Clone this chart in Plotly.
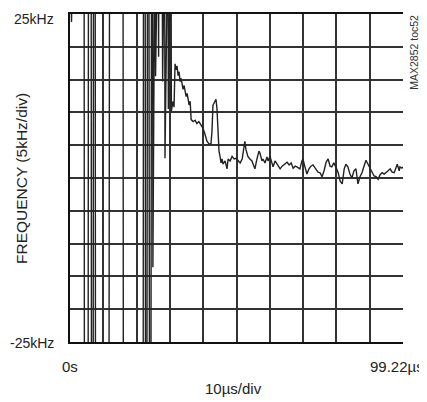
import plotly.graph_objects as go

# time (us) and frequency error (kHz)
# values beyond +/-25 kHz run off the screen
t_us = [0.0, 0.45, 0.75, 4.2, 4.3, 5.4, 5.5, 6.3, 6.4, 6.9, 7.0, 7.5, 7.6,
        11.6, 11.8, 15.8, 15.9, 21.8, 21.9, 22.4, 22.5, 22.9, 23.1, 23.5, 23.7,
        24.1, 24.3, 24.6, 24.7, 24.9, 25.3, 25.5, 25.6, 26.2, 26.4, 26.5,
        27.4, 27.6, 27.7, 28.2, 28.3, 28.5, 29.2, 29.3, 29.5, 30.1, 30.2,
        30.7, 31.0, 31.3, 31.6, 31.9, 32.2, 32.5, 32.8, 33.1, 33.7, 34.0,
        34.6, 34.9, 35.5, 35.8, 36.1, 36.7, 37.3, 37.8, 38.4, 39.0, 39.6,
        40.2, 40.8, 41.4, 42.0, 42.3, 42.6, 43.2, 43.5, 43.8, 44.1, 44.4,
        44.7, 45.0, 45.3, 45.6, 46.2, 46.5, 46.8, 47.1, 47.7, 48.3, 48.9,
        49.5, 50.1, 50.7, 51.3, 51.6, 52.1, 52.4, 53.0, 53.6, 54.2, 54.8,
        55.1, 55.7, 56.3, 56.6, 57.2, 57.5, 58.1, 58.7, 59.0, 59.6, 60.2,
        60.5, 61.1, 61.7, 62.3, 62.6, 63.2, 64.1, 64.7, 65.3, 65.9, 66.5,
        67.1, 67.6, 68.5, 69.1, 69.4, 70.0, 70.6, 71.2, 71.8, 72.4, 73.3,
        73.9, 74.5, 75.1, 75.7, 76.3, 76.9, 77.5, 78.0, 78.6, 79.2, 79.9,
        80.5, 81.1, 81.7, 82.2, 82.8, 83.4, 84.0, 84.6, 85.2, 85.8, 86.4,
        87.0, 87.6, 88.2, 88.8, 89.4, 90.0, 90.6, 91.2, 91.8, 92.4, 93.0,
        93.6, 94.2, 94.8, 95.4, 96.0, 96.6, 97.2, 97.5, 98.1, 98.3, 98.9,
        99.22]
freq_khz = [40, 23.8, 40, 40, -40, -40, 40, 40, -40, -40, 40, 40, -40,
            -40, 40, 40, -40, -40, 40, 40, -40, -40, 40, 40, -40,
            -40, 40, 40, -13.6, 40, 40, 15.5, 40, 40, 18.5, 40,
            40, 14.7, 40, 40, 3.0, 40, 40, 10.5, 40, 40, 10.2,
            11.7, 10.8, 17.4, 16.5, 17.1, 15.6, 16.2, 14.7, 15.2, 13.5, 14.1,
            12.4, 12.9, 11.1, 11.7, 8.9, 8.6, 8.8, 8.3, 8.6, 8.0, 7.6,
            6.7, 5.6, 5.2, 5.2, 7.1, 11.1, 11.7, 12.0, 10.5, 7.1, 4.1,
            3.3, 2.3, 2.9, 2.1, 2.6, 1.8, 1.4, 2.9, 2.6, 3.3, 2.9,
            3.0, 2.6, 2.3, 2.9, 3.8, 5.6, 4.4, 3.3, 2.9, 2.6, 1.8,
            1.4, 2.9, 4.1, 3.8, 2.6, 2.9, 2.3, 3.2, 2.6, 3.3, 2.3,
            1.7, 2.6, 2.1, 1.7, 1.4, 1.8, 2.1, 2.4, 2.0, 2.3, 1.5,
            1.8, 1.7, 1.4, 2.6, 2.9, 1.7, 0.6, 1.4, 1.8, 2.0, 1.4,
            0.9, 0.8, 0.2, 1.1, 2.4, 2.9, 1.8, 1.7, 2.3, 1.7, 0.8,
            -0.5, -0.9, 1.4, 2.1, 1.7, 0.6, 0.0, 1.1, 1.4, -0.9, 0.2,
            0.8, 1.8, 2.7, 2.1, 1.5, 0.9, 0.3, 0.2, -0.2, 0.5, 0.8,
            0.6, 0.8, 1.1, 1.4, 0.9, 0.8, 1.8, 2.1, 1.1, 1.7, 1.5,
            1.7]

t_span = 99.22
f_span = [-25, 25]

font = "Liberation Sans, Arial, sans-serif"

fig = go.Figure()
fig.add_trace(go.Scatter(x=t_us, y=freq_khz, mode="lines",
                         line=dict(color="#222", width=1.4),
                         hoverinfo="skip", showlegend=False))

fig.update_xaxes(range=[0, t_span], tick0=0, dtick=t_span / 10,
                 showgrid=True, gridcolor="#333", gridwidth=2,
                 showline=True, linecolor="#111", linewidth=2, mirror=True,
                 showticklabels=False, ticks="", zeroline=False)
fig.update_yaxes(range=f_span, tick0=-25, dtick=5,
                 showgrid=True, gridcolor="#333", gridwidth=2,
                 showline=True, linecolor="#111", linewidth=2, mirror=False,
                 showticklabels=False, ticks="", zeroline=False)

# plot area in the reference: x 70..403, y 12..342 (pixels)
L, T, PW, PH = 70, 12, 333, 330


def px(x, y):
    return (x - L) / PW, 1 - (y - T) / PH


labels = [
    ("25kHz", 56, 17, "right", 14),
    ("-25kHz", 56, 343, "right", 14),
    ("0s", 70, 367, "center", 15),
    ("99.22µs", 426, 367, "right", 15),
    ("10µs/div", 233, 389, "center", 15),
]
for text, x, y, anchor, size in labels:
    ax, ay = px(x, y)
    fig.add_annotation(text=text, x=ax, y=ay, xref="paper", yref="paper",
                       showarrow=False, xanchor=anchor, yanchor="middle",
                       font=dict(size=size, color="#222", family=font))

ax, ay = px(22, 178)
fig.add_annotation(text="FREQUENCY (5kHz/div)", x=ax, y=ay,
                   xref="paper", yref="paper", showarrow=False, textangle=-90,
                   xanchor="center", yanchor="middle",
                   font=dict(size=15.5, color="#222", family=font))
ax, ay = px(414, 51)
fig.add_annotation(text="MAX2852 toc52", x=ax, y=ay,
                   xref="paper", yref="paper", showarrow=False, textangle=-90,
                   xanchor="center", yanchor="middle",
                   font=dict(size=10.5, color="#333", family=font))

# the page body has an 8px margin, so the figure is drawn 8px in from the
# window corner; shrink it by that much so the plot area lands where it should
fig.update_layout(width=419, height=394, margin=dict(l=62, r=24, t=4, b=60),
                  plot_bgcolor="white", paper_bgcolor="white")

fig.write_html("out.html")
